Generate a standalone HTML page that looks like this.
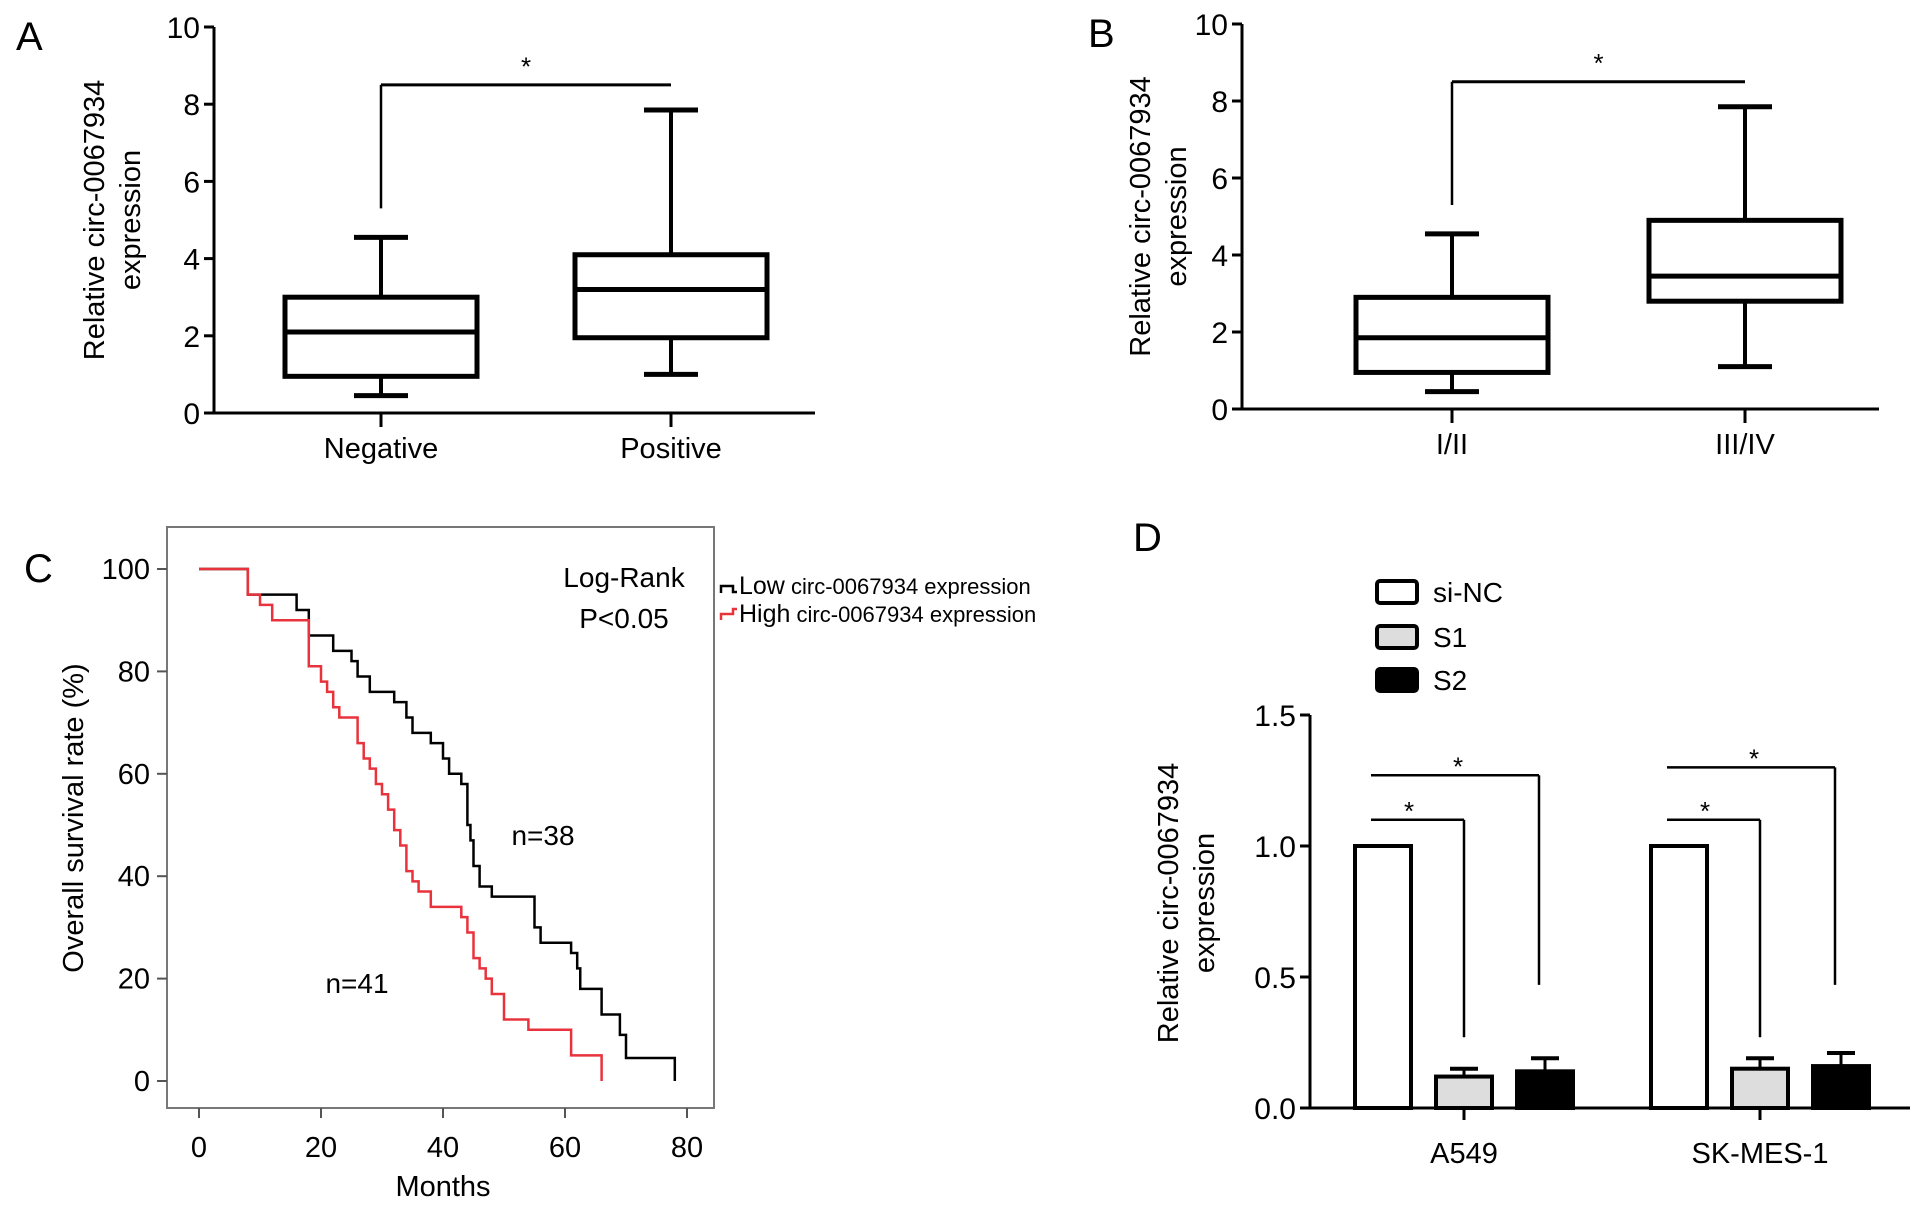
<!DOCTYPE html>
<html><head><meta charset="utf-8"><style>
html,body{margin:0;padding:0;background:#fff}
svg{display:block;font-family:"Liberation Sans",Arial,sans-serif}
</style></head><body>
<svg id="fig" width="1913" height="1211" viewBox="0 0 1913 1211"></svg>
<script>
// ---- Panel A data ----
const aCats = ["Negative","Positive"];
const aMin = [0.45, 1.0];
const aQ1 = [0.95, 1.95];
const aMed = [2.1, 3.2];
const aQ3 = [3.0, 4.1];
const aMax = [4.55, 7.85];
// ---- Panel B data ----
const bCats = ["I/II","III/IV"];
const bMin = [0.45, 1.1];
const bQ1 = [0.95, 2.8];
const bMed = [1.85, 3.45];
const bQ3 = [2.9, 4.9];
const bMax = [4.55, 7.85];
const boxTicks = [0,2,4,6,8,10];
// ---- Panel C data ----
const lowT = [0,8,16,18,22,25,26,28,32,34,35,38,40,41,43,44,44.5,45,46,48,55,56,61,62,62.5,66,69,70,78];
const lowS = [100,95,92,87,84,82,79,76,74,71,68,66,63,60,58,50,47,42,38,36,30,27,25,22,18,13,9,4.5,0];
const highT = [0,8,10,12,18,20,21,22,23,26,27,28,29,30,31,32,33,34,35,36,38,43,44,45,46,47,48,50,54,61,66];
const highS = [100,95,93,90,81,78,76,73,71,66,63,61,58,56,53,49,46,41,39,37,34,32,29,24,22,20,17,12,10,5,0];
const kmXTicks = [0,20,40,60,80];
const kmYTicks = [0,20,40,60,80,100];
// ---- Panel D data ----
const dCats = ["A549","SK-MES-1"];
const dSiNC = [1.0, 1.0];
const dS1 = [0.12, 0.15];
const dS1err = [0.03, 0.04];
const dS2 = [0.14, 0.16];
const dS2err = [0.05, 0.05];
const dTicks = ["0.0","0.5","1.0","1.5"];

const svg = document.getElementById('fig');
const NS = 'http://www.w3.org/2000/svg';
function mk(tag, attrs, text){
  const e = document.createElementNS(NS, tag);
  for (const k in attrs) e.setAttribute(k, attrs[k]);
  if (text !== undefined) e.textContent = text;
  svg.appendChild(e);
  return e;
}
function line(x1,y1,x2,y2,w,c){return mk('line',{x1,y1,x2,y2,stroke:c||'#000','stroke-width':w||3});}

// Panel labels
[["A",16,50],["B",1088,47],["C",24,582],["D",1133,551]].forEach(p=>{
  const t = mk('text',{x:p[1],y:p[2],'font-size':40},p[0]);
  
  
});

function boxPanel(id, ax, yTop, y0, xEnd, cx, cats, mn, q1, md, q3, mx, ylx){
  const ys = v => y0 - v/10*(y0-yTop);
  const g = line(ax, yTop, ax, y0, 3);
   
  const xa = line(ax-8, y0, xEnd, y0, 3);
   
  boxTicks.forEach(v=>{
    line(ax-10, ys(v), ax, ys(v), 3);
    const t = mk('text',{x:ax-14,y:ys(v)+11,'font-size':30,'text-anchor':'end'},String(v));
     
  });
  const hw = 96;
  cats.forEach((c,i)=>{
    const x = cx[i];
    line(x, y0, x, y0+14, 3);
    const t = mk('text',{x:x,y:y0+45,'font-size':29,'text-anchor':'middle'},c);
     
    line(x, ys(mn[i]), x, ys(q1[i]), 4);
    line(x, ys(q3[i]), x, ys(mx[i]), 4);
    line(x-27, ys(mn[i]), x+27, ys(mn[i]), 5);
    line(x-27, ys(mx[i]), x+27, ys(mx[i]), 5);
    const r = mk('rect',{x:x-hw,y:ys(q3[i]),width:2*hw,height:ys(q1[i])-ys(q3[i]),fill:'#fff',stroke:'#000','stroke-width':5});
    
    
    line(x-hw, ys(md[i]), x+hw, ys(md[i]), 5);
  });
  line(cx[0], ys(8.5), cx[1], ys(8.5), 3);
  line(cx[0], ys(8.5), cx[0], ys(5.3), 2.5);
  const s = mk('text',{x:(cx[0]+cx[1])/2,y:ys(8.75),'font-size':26,'text-anchor':'middle'},'*');
   
  const cy = (yTop+y0)/2;
  const yl = mk('text',{transform:`translate(${ylx},${cy}) rotate(-90)`,'font-size':29,'text-anchor':'middle'});
   
  const t1 = document.createElementNS(NS,'tspan'); t1.setAttribute('x',0); t1.setAttribute('dy',0); t1.textContent='Relative circ-0067934'; yl.appendChild(t1);
  const t2 = document.createElementNS(NS,'tspan'); t2.setAttribute('x',0); t2.setAttribute('dy',36); t2.textContent='expression'; yl.appendChild(t2);
}
boxPanel('panel-a', 214, 27, 413, 815, [381,671], aCats, aMin, aQ1, aMed, aQ3, aMax, 104);
boxPanel('panel-b', 1242, 24, 409, 1879, [1452,1745], bCats, bMin, bQ1, bMed, bQ3, bMax, 1150);

// ---- Panel C ----
(function(){
  const x0=199, x80=687, y100=569, yZero=1081;
  const xs = v => x0 + v/80*(x80-x0);
  const ys = v => yZero - v/100*(yZero-y100);
  const fr = mk('rect',{x:167,y:527,width:547,height:581,fill:'none',stroke:'#777','stroke-width':2});
   
  kmXTicks.forEach(v=>{
    line(xs(v),1108,xs(v),1118,2,'#555');
    const t = mk('text',{x:xs(v),y:1157,'font-size':29,'text-anchor':'middle'},String(v));
     
  });
  kmYTicks.forEach(v=>{
    line(157,ys(v),167,ys(v),2,'#555');
    const t = mk('text',{x:150,y:ys(v)+10,'font-size':29,'text-anchor':'end'},String(v));
     
  });
  function step(T,S,color,name){
    let d = `M${xs(T[0])},${ys(S[0])}`;
    for(let i=1;i<T.length;i++){ d += ` H${xs(T[i])} V${ys(S[i])}`; }
    const p = mk('path',{d,fill:'none',stroke:color,'stroke-width':2.5});
     
  }
  step(lowT,lowS,'#000','km-curve-low');
  step(highT,highS,'#e8323c','km-curve-high');
  const xl = mk('text',{x:443,y:1196,'font-size':29,'text-anchor':'middle'},'Months');
   
  const yl = mk('text',{transform:'translate(83,818) rotate(-90)','font-size':29,'text-anchor':'middle'},'Overall survival rate (%)');
   
  const lr = mk('text',{x:624,y:587,'font-size':28,'text-anchor':'middle'},'Log-Rank');
   
  const pv = mk('text',{x:624,y:628,'font-size':28,'text-anchor':'middle'},'P<0.05');
   
  const n1 = mk('text',{x:543,y:845,'font-size':28,'text-anchor':'middle'},'n=38');
   
  const n2 = mk('text',{x:357,y:993,'font-size':28,'text-anchor':'middle'},'n=41');
   
  mk('path',{d:'M721,593 V586 H733 V592 H737',fill:'none',stroke:'#000','stroke-width':2.5});
  mk('path',{d:'M721,620 V614 H733 V609 H737',fill:'none',stroke:'#e8323c','stroke-width':2.5});
  const l1 = mk('text',{x:739,y:594,'font-size':22},'');
   
  l1.innerHTML='<tspan font-size="25">Low</tspan> circ-0067934 expression';
  const l2 = mk('text',{x:739,y:622,'font-size':22},'');
   
  l2.innerHTML='<tspan font-size="25">High</tspan> circ-0067934 expression';
})();

// ---- Panel D ----
(function(){
  const ax=1310, yTop=715, y0=1108, xEnd=1910;
  const ys = v => y0 - v/1.5*(y0-yTop);
  const ya = line(ax,yTop,ax,y0,3);  
  const xa = line(ax-8,y0,xEnd,y0,3);  
  dTicks.forEach(s=>{
    const v=parseFloat(s);
    line(ax-10,ys(v),ax,ys(v),3);
    const t = mk('text',{x:ax-14,y:ys(v)+11,'font-size':30,'text-anchor':'end'},s);
     
  });
  const gc=[1464,1760], bw=56, offs=[-81,0,81];
  const series=[[dSiNC,null,'#fff','si-nc'],[dS1,dS1err,'#ddd','s1'],[dS2,dS2err,'#000','s2']];
  dCats.forEach((c,i)=>{
    line(gc[i],y0,gc[i],y0+12,3);
    const t = mk('text',{x:gc[i],y:1163,'font-size':29,'text-anchor':'middle'},c);
     
    series.forEach((s,j)=>{
      const cx = gc[i]+offs[j], v=s[0][i];
      if(s[1]){
        const e=s[1][i];
        line(cx,ys(v),cx,ys(v+e),3); line(cx-14,ys(v+e),cx+14,ys(v+e),4);
      }
      const r = mk('rect',{x:cx-bw/2,y:ys(v),width:bw,height:y0-ys(v),fill:s[2],stroke:'#000','stroke-width':4});
      
      
    });
    const x1=gc[i]+offs[0]-12;
    line(x1,ys(1.1),gc[i]+offs[1],ys(1.1),2.5); line(gc[i]+offs[1],ys(1.1),gc[i]+offs[1],ys(0.27),2.5);
    const top2 = i===0?1.27:1.3;
    line(x1,ys(top2),gc[i]+offs[2]-6,ys(top2),2.5); line(gc[i]+offs[2]-6,ys(top2),gc[i]+offs[2]-6,ys(0.47),2.5);
    const s1=mk('text',{x:x1+38,y:ys(1.13)+8,'font-size':26,'text-anchor':'middle'},'*');
     
    const s2=mk('text',{x:(x1+gc[i]+offs[2])/2,y:ys(top2+0.03)+8,'font-size':26,'text-anchor':'middle'},'*');
     
  });
  [['si-NC','#fff',592],['S1','#ddd',637],['S2','#000',680]].forEach(l=>{
    const r = mk('rect',{x:1377,y:l[2]-11,width:40,height:22,rx:3,fill:l[1],stroke:'#000','stroke-width':4});
     
    const t = mk('text',{x:1433,y:l[2]+10,'font-size':28},l[0]);
     
  });
  const yl = mk('text',{transform:`translate(1178,903) rotate(-90)`,'font-size':29,'text-anchor':'middle'});
   
  yl.innerHTML='<tspan x="0" dy="0">Relative circ-0067934</tspan><tspan x="0" dy="36">expression</tspan>';
})();
</script>
</body></html>
